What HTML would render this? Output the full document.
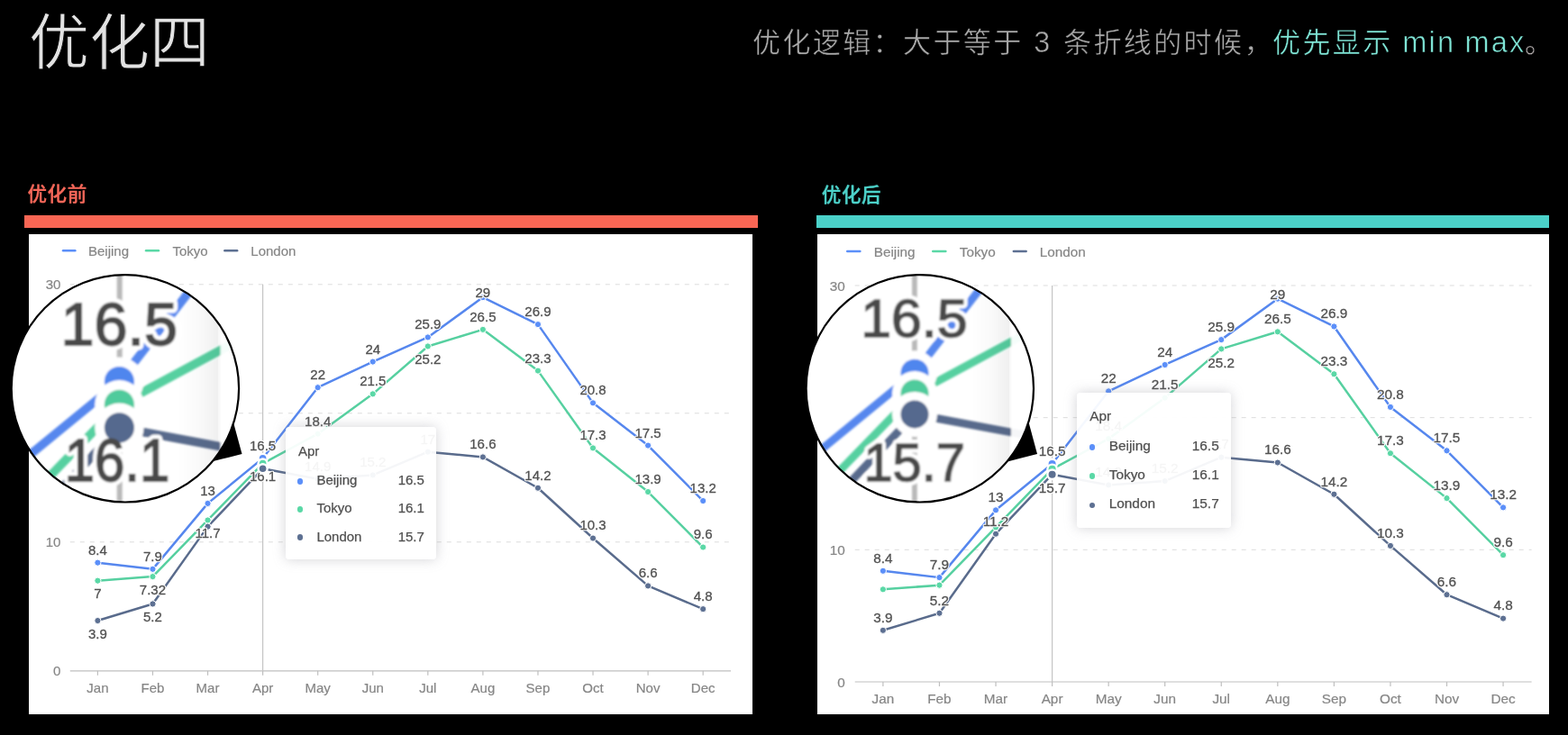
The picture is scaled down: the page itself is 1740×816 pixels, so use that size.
<!DOCTYPE html>
<html lang="zh-CN">
<head>
<meta charset="utf-8">
<title>优化四</title>
<style>
html,body{margin:0;padding:0;background:#000;}
body{width:1740px;height:816px;position:relative;overflow:hidden;font-family:"Liberation Sans",sans-serif;}
svg{position:absolute;left:0;top:0;overflow:visible;opacity:0.9999;}
svg text{font-family:"Liberation Sans",sans-serif;}
svg text.cjk{font-family:"Liberation Sans","Noto Sans CJK SC",sans-serif;}
h1,h2,p{margin:0;padding:0;font-weight:normal;}
.bar{position:absolute;height:13.6px;top:239.2px;}
.bar.red{left:27px;width:814px;background:#f96654;}
.bar.teal{left:906.2px;width:812.8px;background:#4bd1c9;}
.panel{position:absolute;background:#fff;top:260px;height:532.6px;}
.panel.l{left:32px;width:803.1px;}
.panel.r{left:907px;width:812px;}
.tooltip{position:absolute;background:rgba(255,255,255,0.94);border-radius:4px;box-shadow:0 0 14px rgba(140,140,150,0.38);color:#505050;-webkit-text-stroke:0.25px #505050;white-space:nowrap;line-height:1;}
.tooltip div{opacity:0.9999;}
.tooltip div{position:absolute;}
.tt-dot{width:6.6px;height:6.6px;border-radius:50%;}
</style>
</head>
<body>
<h1 aria-label="优化四"><svg width="1740" height="100" viewBox="0 0 1740 100"><text class="cjk" x="32" y="70.5" font-size="67" fill="#e2e2e2" stroke="#000" stroke-width="0.9">优化四</text></svg></h1>
<p aria-label="优化逻辑：大于等于 3 条折线的时候，优先显示 min max。"><svg width="1740" height="100" viewBox="0 0 1740 100"><text class="cjk" x="835" y="57.9" font-size="31" letter-spacing="2.4" fill="#a9a9a9" stroke="#000" stroke-width="0.5">优化逻辑：大于等于</text><text class="cjk" x="1180" y="57.9" font-size="31" letter-spacing="2.4" fill="#a9a9a9" stroke="#000" stroke-width="0.5">条折线的时候，</text><text class="cjk" x="1412" y="57.9" font-size="31" letter-spacing="2.4" fill="#7fe5d6" stroke="#000" stroke-width="0.5">优先显示</text><text class="cjk" x="1692" y="57.9" font-size="31" fill="#c9c3c3" stroke="#000" stroke-width="0.5">。</text><text x="1147.2" y="57.9" font-size="32.3" fill="#a9a9a9" stroke="#000" stroke-width="0.5">3</text><text x="1556.3" y="57.9" font-size="32.5" letter-spacing="2.2" fill="#7fe5d6" stroke="#000" stroke-width="0.6">min</text><text x="1625.5" y="57.9" font-size="32.5" letter-spacing="2.2" fill="#7fe5d6" stroke="#000" stroke-width="0.6">max</text></svg></p>

<h2 aria-label="优化前"><svg width="1740" height="260" viewBox="0 0 1740 260"><text class="cjk" x="30.4" y="223.4" font-size="21.5" letter-spacing="0.7" font-weight="500" fill="#f6685a" stroke="#f6685a" stroke-width="0.35">优化前</text></svg></h2>
<div class="bar red"></div>
<div class="panel l"></div>
<svg width="1740" height="816" viewBox="0 0 1740 816">
<g class="legend" font-size="15" fill="#868686" stroke="#868686" stroke-width="0.2">
<line x1="70" x2="83.4" y1="278.3" y2="278.3" stroke="#5B8FF9" stroke-width="2.4" stroke-linecap="round"/>
<text x="98" y="283.7">Beijing</text>
<line x1="162" x2="176" y1="278.3" y2="278.3" stroke="#5AD8A6" stroke-width="2.4" stroke-linecap="round"/>
<text x="191.4" y="283.7">Tokyo</text>
<line x1="249.3" x2="263.2" y1="278.3" y2="278.3" stroke="#5D7092" stroke-width="2.4" stroke-linecap="round"/>
<text x="278.3" y="283.7">London</text>
</g>
<g class="grid" stroke="#dcdcdc" stroke-width="1" stroke-dasharray="5 6">
<line x1="77.8" x2="811" y1="601.8" y2="601.8"/>
<line x1="77.8" x2="811" y1="458.8" y2="458.8"/>
<line x1="77.8" x2="811" y1="315.8" y2="315.8"/>
</g>
<g class="axis" stroke="#bfbfbf" stroke-width="1.2">
<line x1="77.8" x2="811" y1="744.8" y2="744.8"/>
<line x1="108.4" x2="108.4" y1="744.8" y2="749.8"/>
<line x1="169.47" x2="169.47" y1="744.8" y2="749.8"/>
<line x1="230.54" x2="230.54" y1="744.8" y2="749.8"/>
<line x1="291.61" x2="291.61" y1="744.8" y2="749.8"/>
<line x1="352.68" x2="352.68" y1="744.8" y2="749.8"/>
<line x1="413.75" x2="413.75" y1="744.8" y2="749.8"/>
<line x1="474.82" x2="474.82" y1="744.8" y2="749.8"/>
<line x1="535.89" x2="535.89" y1="744.8" y2="749.8"/>
<line x1="596.96" x2="596.96" y1="744.8" y2="749.8"/>
<line x1="658.03" x2="658.03" y1="744.8" y2="749.8"/>
<line x1="719.1" x2="719.1" y1="744.8" y2="749.8"/>
<line x1="780.17" x2="780.17" y1="744.8" y2="749.8"/>
</g>
<g class="axis-labels" font-size="15" fill="#868686" stroke="#868686" stroke-width="0.2">
<text x="108.4" y="768.8" text-anchor="middle">Jan</text>
<text x="169.47" y="768.8" text-anchor="middle">Feb</text>
<text x="230.54" y="768.8" text-anchor="middle">Mar</text>
<text x="291.61" y="768.8" text-anchor="middle">Apr</text>
<text x="352.68" y="768.8" text-anchor="middle">May</text>
<text x="413.75" y="768.8" text-anchor="middle">Jun</text>
<text x="474.82" y="768.8" text-anchor="middle">Jul</text>
<text x="535.89" y="768.8" text-anchor="middle">Aug</text>
<text x="596.96" y="768.8" text-anchor="middle">Sep</text>
<text x="658.03" y="768.8" text-anchor="middle">Oct</text>
<text x="719.1" y="768.8" text-anchor="middle">Nov</text>
<text x="780.17" y="768.8" text-anchor="middle">Dec</text>
<text x="67.4" y="750.2" text-anchor="end">0</text>
<text x="67.4" y="607.2" text-anchor="end">10</text>
<text x="67.4" y="464.2" text-anchor="end">20</text>
<text x="67.4" y="321.2" text-anchor="end">30</text>
</g>
<line class="crosshair" x1="291.61" x2="291.61" y1="315.8" y2="744.8" stroke="#c4c4c4" stroke-width="1.2"/>
<polyline points="108.4,624.68 169.47,631.83 230.54,558.9 291.61,508.85 352.68,430.2 413.75,401.6 474.82,374.43 535.89,330.1 596.96,360.13 658.03,447.36 719.1,494.55 780.17,556.04" fill="none" stroke="#5687EE" stroke-width="2.5" stroke-linejoin="round" stroke-linecap="round"/>
<polyline points="108.4,644.7 169.47,640.12 230.54,577.49 291.61,514.57 352.68,481.68 413.75,437.35 474.82,384.44 535.89,365.85 596.96,411.61 658.03,497.41 719.1,546.03 780.17,607.52" fill="none" stroke="#56D0A0" stroke-width="2.5" stroke-linejoin="round" stroke-linecap="round"/>
<polyline points="108.4,689.03 169.47,670.44 230.54,584.64 291.61,520.29 352.68,531.73 413.75,527.44 474.82,501.7 535.89,507.42 596.96,541.74 658.03,597.51 719.1,650.42 780.17,676.16" fill="none" stroke="#596B8C" stroke-width="2.5" stroke-linejoin="round" stroke-linecap="round"/>
<g fill="#5B8FF9" stroke="#fff" stroke-width="1">
<circle cx="108.4" cy="624.68" r="3.6"/>
<circle cx="169.47" cy="631.83" r="3.6"/>
<circle cx="230.54" cy="558.9" r="3.6"/>
<circle cx="352.68" cy="430.2" r="3.6"/>
<circle cx="413.75" cy="401.6" r="3.6"/>
<circle cx="474.82" cy="374.43" r="3.6"/>
<circle cx="535.89" cy="330.1" r="3.6"/>
<circle cx="596.96" cy="360.13" r="3.6"/>
<circle cx="658.03" cy="447.36" r="3.6"/>
<circle cx="719.1" cy="494.55" r="3.6"/>
<circle cx="780.17" cy="556.04" r="3.6"/>
</g>
<g fill="#5AD8A6" stroke="#fff" stroke-width="1">
<circle cx="108.4" cy="644.7" r="3.6"/>
<circle cx="169.47" cy="640.12" r="3.6"/>
<circle cx="230.54" cy="577.49" r="3.6"/>
<circle cx="352.68" cy="481.68" r="3.6"/>
<circle cx="413.75" cy="437.35" r="3.6"/>
<circle cx="474.82" cy="384.44" r="3.6"/>
<circle cx="535.89" cy="365.85" r="3.6"/>
<circle cx="596.96" cy="411.61" r="3.6"/>
<circle cx="658.03" cy="497.41" r="3.6"/>
<circle cx="719.1" cy="546.03" r="3.6"/>
<circle cx="780.17" cy="607.52" r="3.6"/>
</g>
<g fill="#5D7092" stroke="#fff" stroke-width="1">
<circle cx="108.4" cy="689.03" r="3.6"/>
<circle cx="169.47" cy="670.44" r="3.6"/>
<circle cx="230.54" cy="584.64" r="3.6"/>
<circle cx="352.68" cy="531.73" r="3.6"/>
<circle cx="413.75" cy="527.44" r="3.6"/>
<circle cx="474.82" cy="501.7" r="3.6"/>
<circle cx="535.89" cy="507.42" r="3.6"/>
<circle cx="596.96" cy="541.74" r="3.6"/>
<circle cx="658.03" cy="597.51" r="3.6"/>
<circle cx="719.1" cy="650.42" r="3.6"/>
<circle cx="780.17" cy="676.16" r="3.6"/>
</g>
<g class="label-halo" font-size="15" fill="#fff" stroke="#fff" stroke-width="2.4" stroke-linejoin="round" text-anchor="middle">
<text x="108.4" y="615.65">8.4</text>
<text x="169.47" y="622.8">7.9</text>
<text x="230.54" y="549.87">13</text>
<text x="291.61" y="499.82">16.5</text>
<text x="352.68" y="421.17">22</text>
<text x="413.75" y="392.57">24</text>
<text x="474.82" y="365.4">25.9</text>
<text x="535.89" y="330.37">29</text>
<text x="596.96" y="351.1">26.9</text>
<text x="658.03" y="438.33">20.8</text>
<text x="719.1" y="485.52">17.5</text>
<text x="780.17" y="547.01">13.2</text>
<text x="108.4" y="664.47">7</text>
<text x="169.47" y="659.89">7.32</text>
<text x="230.54" y="597.26">11.7</text>
<text x="291.61" y="534.34">16.1</text>
<text x="352.68" y="472.65">18.4</text>
<text x="413.75" y="428.32">21.5</text>
<text x="474.82" y="404.21">25.2</text>
<text x="535.89" y="356.82">26.5</text>
<text x="596.96" y="402.58">23.3</text>
<text x="658.03" y="488.38">17.3</text>
<text x="719.1" y="537">13.9</text>
<text x="780.17" y="598.49">9.6</text>
<text x="108.4" y="708.8">3.9</text>
<text x="169.47" y="690.21">5.2</text>
<text x="352.68" y="522.7">14.9</text>
<text x="413.75" y="518.41">15.2</text>
<text x="474.82" y="492.67">17</text>
<text x="535.89" y="498.39">16.6</text>
<text x="596.96" y="532.71">14.2</text>
<text x="658.03" y="588.48">10.3</text>
<text x="719.1" y="641.39">6.6</text>
<text x="780.17" y="667.13">4.8</text>
</g>
<g class="labels" font-size="15" fill="#525252" stroke="#525252" stroke-width="0.3" text-anchor="middle">
<text x="108.4" y="615.65">8.4</text>
<text x="169.47" y="622.8">7.9</text>
<text x="230.54" y="549.87">13</text>
<text x="291.61" y="499.82">16.5</text>
<text x="352.68" y="421.17">22</text>
<text x="413.75" y="392.57">24</text>
<text x="474.82" y="365.4">25.9</text>
<text x="535.89" y="330.37">29</text>
<text x="596.96" y="351.1">26.9</text>
<text x="658.03" y="438.33">20.8</text>
<text x="719.1" y="485.52">17.5</text>
<text x="780.17" y="547.01">13.2</text>
<text x="108.4" y="664.47">7</text>
<text x="169.47" y="659.89">7.32</text>
<text x="230.54" y="597.26">11.7</text>
<text x="291.61" y="534.34">16.1</text>
<text x="352.68" y="472.65">18.4</text>
<text x="413.75" y="428.32">21.5</text>
<text x="474.82" y="404.21">25.2</text>
<text x="535.89" y="356.82">26.5</text>
<text x="596.96" y="402.58">23.3</text>
<text x="658.03" y="488.38">17.3</text>
<text x="719.1" y="537">13.9</text>
<text x="780.17" y="598.49">9.6</text>
<text x="108.4" y="708.8">3.9</text>
<text x="169.47" y="690.21">5.2</text>
<text x="352.68" y="522.7">14.9</text>
<text x="413.75" y="518.41">15.2</text>
<text x="474.82" y="492.67">17</text>
<text x="535.89" y="498.39">16.6</text>
<text x="596.96" y="532.71">14.2</text>
<text x="658.03" y="588.48">10.3</text>
<text x="719.1" y="641.39">6.6</text>
<text x="780.17" y="667.13">4.8</text>
</g>
<g class="active-points">
<circle cx="291.61" cy="508.85" r="6.2" fill="#fff"/><circle cx="291.61" cy="508.85" r="3.8" fill="#5B8FF9"/>
<circle cx="291.61" cy="514.57" r="6.2" fill="#fff"/><circle cx="291.61" cy="514.57" r="3.8" fill="#5AD8A6"/>
<circle cx="291.61" cy="520.29" r="6.2" fill="#fff"/><circle cx="291.61" cy="520.29" r="3.8" fill="#5D7092"/>
</g>
</svg>
<div class="tooltip" style="left:317.2px;top:474.3px;width:167px;height:147px;font-size:15px"><div class="tt-title" style="left:13.7px;top:18.9px">Apr</div><div class="tt-dot" style="left:12.6px;top:56.9px;background:#5B8FF9"></div><div class="tt-name" style="left:34.2px;top:50.6px">Beijing</div><div class="tt-val" style="right:13.3px;top:50.6px">16.5</div><div class="tt-dot" style="left:12.6px;top:87.8px;background:#5AD8A6"></div><div class="tt-name" style="left:34.2px;top:82.2px">Tokyo</div><div class="tt-val" style="right:13.3px;top:82.2px">16.1</div><div class="tt-dot" style="left:12.6px;top:119.1px;background:#5D7092"></div><div class="tt-name" style="left:34.2px;top:113.5px">London</div><div class="tt-val" style="right:13.3px;top:113.5px">15.7</div></div>

<h2 aria-label="优化后"><svg width="1740" height="260" viewBox="0 0 1740 260"><text class="cjk" x="911.7" y="224.4" font-size="21.5" letter-spacing="0.7" font-weight="500" fill="#4dd2ca" stroke="#4dd2ca" stroke-width="0.35">优化后</text></svg></h2>
<div class="bar teal"></div>
<div class="panel r"></div>
<svg width="1740" height="816" viewBox="0 0 1740 816">
<g class="legend" font-size="15.3" fill="#868686" stroke="#868686" stroke-width="0.2">
<line x1="940.2" x2="954.4" y1="279" y2="279" stroke="#5B8FF9" stroke-width="2.4" stroke-linecap="round"/>
<text x="969.7" y="284.51">Beijing</text>
<line x1="1035.2" x2="1049.4" y1="279" y2="279" stroke="#5AD8A6" stroke-width="2.4" stroke-linecap="round"/>
<text x="1064.8" y="284.51">Tokyo</text>
<line x1="1124.8" x2="1138.7" y1="279" y2="279" stroke="#5D7092" stroke-width="2.4" stroke-linecap="round"/>
<text x="1153.8" y="284.51">London</text>
</g>
<g class="grid" stroke="#dcdcdc" stroke-width="1" stroke-dasharray="5 6">
<line x1="948.7" x2="1699.6" y1="610.33" y2="610.33"/>
<line x1="948.7" x2="1699.6" y1="463.66" y2="463.66"/>
<line x1="948.7" x2="1699.6" y1="316.99" y2="316.99"/>
</g>
<g class="axis" stroke="#bfbfbf" stroke-width="1.2">
<line x1="948.7" x2="1699.6" y1="757" y2="757"/>
<line x1="979.9" x2="979.9" y1="757" y2="762"/>
<line x1="1042.46" x2="1042.46" y1="757" y2="762"/>
<line x1="1105.02" x2="1105.02" y1="757" y2="762"/>
<line x1="1167.58" x2="1167.58" y1="757" y2="762"/>
<line x1="1230.14" x2="1230.14" y1="757" y2="762"/>
<line x1="1292.7" x2="1292.7" y1="757" y2="762"/>
<line x1="1355.26" x2="1355.26" y1="757" y2="762"/>
<line x1="1417.82" x2="1417.82" y1="757" y2="762"/>
<line x1="1480.38" x2="1480.38" y1="757" y2="762"/>
<line x1="1542.94" x2="1542.94" y1="757" y2="762"/>
<line x1="1605.5" x2="1605.5" y1="757" y2="762"/>
<line x1="1668.06" x2="1668.06" y1="757" y2="762"/>
</g>
<g class="axis-labels" font-size="15.3" fill="#868686" stroke="#868686" stroke-width="0.2">
<text x="979.9" y="781.41" text-anchor="middle">Jan</text>
<text x="1042.46" y="781.41" text-anchor="middle">Feb</text>
<text x="1105.02" y="781.41" text-anchor="middle">Mar</text>
<text x="1167.58" y="781.41" text-anchor="middle">Apr</text>
<text x="1230.14" y="781.41" text-anchor="middle">May</text>
<text x="1292.7" y="781.41" text-anchor="middle">Jun</text>
<text x="1355.26" y="781.41" text-anchor="middle">Jul</text>
<text x="1417.82" y="781.41" text-anchor="middle">Aug</text>
<text x="1480.38" y="781.41" text-anchor="middle">Sep</text>
<text x="1542.94" y="781.41" text-anchor="middle">Oct</text>
<text x="1605.5" y="781.41" text-anchor="middle">Nov</text>
<text x="1668.06" y="781.41" text-anchor="middle">Dec</text>
<text x="937.8" y="762.51" text-anchor="end">0</text>
<text x="937.8" y="615.84" text-anchor="end">10</text>
<text x="937.8" y="469.17" text-anchor="end">20</text>
<text x="937.8" y="322.5" text-anchor="end">30</text>
</g>
<line class="crosshair" x1="1167.58" x2="1167.58" y1="316.99" y2="757" stroke="#c4c4c4" stroke-width="1.2"/>
<polyline points="979.9,633.8 1042.46,641.13 1105.02,566.33 1167.58,514.99 1230.14,434.33 1292.7,404.99 1355.26,377.12 1417.82,331.66 1480.38,362.46 1542.94,451.93 1605.5,500.33 1668.06,563.4" fill="none" stroke="#5687EE" stroke-width="2.5" stroke-linejoin="round" stroke-linecap="round"/>
<polyline points="979.9,654.33 1042.46,649.64 1105.02,585.4 1167.58,520.86 1230.14,487.13 1292.7,441.66 1355.26,387.39 1417.82,368.32 1480.38,415.26 1542.94,503.26 1605.5,553.13 1668.06,616.2" fill="none" stroke="#56D0A0" stroke-width="2.5" stroke-linejoin="round" stroke-linecap="round"/>
<polyline points="979.9,699.8 1042.46,680.73 1105.02,592.73 1167.58,526.73 1230.14,538.46 1292.7,534.06 1355.26,507.66 1417.82,513.53 1480.38,548.73 1542.94,605.93 1605.5,660.2 1668.06,686.6" fill="none" stroke="#596B8C" stroke-width="2.5" stroke-linejoin="round" stroke-linecap="round"/>
<g fill="#5B8FF9" stroke="#fff" stroke-width="1">
<circle cx="979.9" cy="633.8" r="3.6"/>
<circle cx="1042.46" cy="641.13" r="3.6"/>
<circle cx="1105.02" cy="566.33" r="3.6"/>
<circle cx="1230.14" cy="434.33" r="3.6"/>
<circle cx="1292.7" cy="404.99" r="3.6"/>
<circle cx="1355.26" cy="377.12" r="3.6"/>
<circle cx="1417.82" cy="331.66" r="3.6"/>
<circle cx="1480.38" cy="362.46" r="3.6"/>
<circle cx="1542.94" cy="451.93" r="3.6"/>
<circle cx="1605.5" cy="500.33" r="3.6"/>
<circle cx="1668.06" cy="563.4" r="3.6"/>
</g>
<g fill="#5AD8A6" stroke="#fff" stroke-width="1">
<circle cx="979.9" cy="654.33" r="3.6"/>
<circle cx="1042.46" cy="649.64" r="3.6"/>
<circle cx="1105.02" cy="585.4" r="3.6"/>
<circle cx="1230.14" cy="487.13" r="3.6"/>
<circle cx="1292.7" cy="441.66" r="3.6"/>
<circle cx="1355.26" cy="387.39" r="3.6"/>
<circle cx="1417.82" cy="368.32" r="3.6"/>
<circle cx="1480.38" cy="415.26" r="3.6"/>
<circle cx="1542.94" cy="503.26" r="3.6"/>
<circle cx="1605.5" cy="553.13" r="3.6"/>
<circle cx="1668.06" cy="616.2" r="3.6"/>
</g>
<g fill="#5D7092" stroke="#fff" stroke-width="1">
<circle cx="979.9" cy="699.8" r="3.6"/>
<circle cx="1042.46" cy="680.73" r="3.6"/>
<circle cx="1105.02" cy="592.73" r="3.6"/>
<circle cx="1230.14" cy="538.46" r="3.6"/>
<circle cx="1292.7" cy="534.06" r="3.6"/>
<circle cx="1355.26" cy="507.66" r="3.6"/>
<circle cx="1417.82" cy="513.53" r="3.6"/>
<circle cx="1480.38" cy="548.73" r="3.6"/>
<circle cx="1542.94" cy="605.93" r="3.6"/>
<circle cx="1605.5" cy="660.2" r="3.6"/>
<circle cx="1668.06" cy="686.6" r="3.6"/>
</g>
<g class="label-halo" font-size="15.3" fill="#fff" stroke="#fff" stroke-width="2.4" stroke-linejoin="round" text-anchor="middle">
<text x="979.9" y="624.57">8.4</text>
<text x="1042.46" y="631.91">7.9</text>
<text x="1105.02" y="557.11">13</text>
<text x="1167.58" y="505.77">16.5</text>
<text x="1230.14" y="425.1">22</text>
<text x="1292.7" y="395.77">24</text>
<text x="1355.26" y="367.9">25.9</text>
<text x="1417.82" y="331.98">29</text>
<text x="1480.38" y="353.24">26.9</text>
<text x="1542.94" y="442.7">20.8</text>
<text x="1605.5" y="491.1">17.5</text>
<text x="1668.06" y="554.17">13.2</text>
<text x="1230.14" y="477.9">18.4</text>
<text x="1292.7" y="432.44">21.5</text>
<text x="1355.26" y="407.57">25.2</text>
<text x="1417.82" y="359.1">26.5</text>
<text x="1480.38" y="406.04">23.3</text>
<text x="1542.94" y="494.04">17.3</text>
<text x="1605.5" y="543.91">13.9</text>
<text x="1668.06" y="606.97">9.6</text>
<text x="979.9" y="690.58">3.9</text>
<text x="1042.46" y="671.51">5.2</text>
<text x="1105.02" y="583.51">11.2</text>
<text x="1167.58" y="546.91">15.7</text>
<text x="1230.14" y="529.24">14.9</text>
<text x="1292.7" y="524.84">15.2</text>
<text x="1355.26" y="498.44">17</text>
<text x="1417.82" y="504.31">16.6</text>
<text x="1480.38" y="539.51">14.2</text>
<text x="1542.94" y="596.71">10.3</text>
<text x="1605.5" y="650.98">6.6</text>
<text x="1668.06" y="677.38">4.8</text>
</g>
<g class="labels" font-size="15.3" fill="#525252" stroke="#525252" stroke-width="0.3" text-anchor="middle">
<text x="979.9" y="624.57">8.4</text>
<text x="1042.46" y="631.91">7.9</text>
<text x="1105.02" y="557.11">13</text>
<text x="1167.58" y="505.77">16.5</text>
<text x="1230.14" y="425.1">22</text>
<text x="1292.7" y="395.77">24</text>
<text x="1355.26" y="367.9">25.9</text>
<text x="1417.82" y="331.98">29</text>
<text x="1480.38" y="353.24">26.9</text>
<text x="1542.94" y="442.7">20.8</text>
<text x="1605.5" y="491.1">17.5</text>
<text x="1668.06" y="554.17">13.2</text>
<text x="1230.14" y="477.9">18.4</text>
<text x="1292.7" y="432.44">21.5</text>
<text x="1355.26" y="407.57">25.2</text>
<text x="1417.82" y="359.1">26.5</text>
<text x="1480.38" y="406.04">23.3</text>
<text x="1542.94" y="494.04">17.3</text>
<text x="1605.5" y="543.91">13.9</text>
<text x="1668.06" y="606.97">9.6</text>
<text x="979.9" y="690.58">3.9</text>
<text x="1042.46" y="671.51">5.2</text>
<text x="1105.02" y="583.51">11.2</text>
<text x="1167.58" y="546.91">15.7</text>
<text x="1230.14" y="529.24">14.9</text>
<text x="1292.7" y="524.84">15.2</text>
<text x="1355.26" y="498.44">17</text>
<text x="1417.82" y="504.31">16.6</text>
<text x="1480.38" y="539.51">14.2</text>
<text x="1542.94" y="596.71">10.3</text>
<text x="1605.5" y="650.98">6.6</text>
<text x="1668.06" y="677.38">4.8</text>
</g>
<g class="active-points">
<circle cx="1167.58" cy="514.99" r="6.4" fill="#fff"/><circle cx="1167.58" cy="514.99" r="4" fill="#5B8FF9"/>
<circle cx="1167.58" cy="520.86" r="6.4" fill="#fff"/><circle cx="1167.58" cy="520.86" r="4" fill="#5AD8A6"/>
<circle cx="1167.58" cy="526.73" r="6.4" fill="#fff"/><circle cx="1167.58" cy="526.73" r="4" fill="#5D7092"/>
</g>
</svg>
<div class="tooltip" style="left:1195px;top:435.9px;width:171.3px;height:150.3px;font-size:15.4px"><div class="tt-title" style="left:14.3px;top:18.46px">Apr</div><div class="tt-dot" style="left:13.9px;top:57.5px;background:#5B8FF9"></div><div class="tt-name" style="left:35.7px;top:50.86px">Beijing</div><div class="tt-val" style="right:13.6px;top:50.86px">16.5</div><div class="tt-dot" style="left:13.9px;top:89.5px;background:#5AD8A6"></div><div class="tt-name" style="left:35.7px;top:83.06px">Tokyo</div><div class="tt-val" style="right:13.6px;top:83.06px">16.1</div><div class="tt-dot" style="left:13.9px;top:121.9px;background:#5D7092"></div><div class="tt-name" style="left:35.7px;top:115.46px">London</div><div class="tt-val" style="right:13.6px;top:115.46px">15.7</div></div>

<svg width="1740" height="816" viewBox="0 0 1740 816">
<defs><clipPath id="mc1"><circle cx="138.9" cy="431.3" r="126.2"/></clipPath>
<linearGradient id="mg1" x1="0" x2="1" y1="0" y2="0"><stop offset="0" stop-color="#1a1a2a" stop-opacity="0"/><stop offset="0.5" stop-color="#1a1a2a" stop-opacity="0.02"/><stop offset="1" stop-color="#1a1a2a" stop-opacity="0.065"/></linearGradient>
<filter id="mb1" x="-10%" y="-10%" width="120%" height="120%"><feGaussianBlur stdDeviation="1.1"/></filter></defs>
<polygon points="259.3,470.1 268.5,504 236.5,512 220,480" fill="#000"/>
<circle cx="138.9" cy="431.3" r="126.2" fill="#fff"/>
<g clip-path="url(#mc1)"><g filter="url(#mb1)">
<line x1="132.7" x2="132.7" y1="300.1" y2="562.5" stroke="#b9b9b9" stroke-width="6"/>
<polyline points="-37.6,562.83 132.4,423.6 302.4,204.64" fill="none" stroke="#5687EE" stroke-width="9.6" stroke-linejoin="round"/>
<polyline points="-37.6,624.4 132.4,449.3 302.4,357.67" fill="none" stroke="#56D0A0" stroke-width="9.6" stroke-linejoin="round"/>
<polyline points="-37.6,653.98 132.4,474.8 302.4,506.59" fill="none" stroke="#596B8C" stroke-width="9.6" stroke-linejoin="round"/>
<text x="67.5" y="382.7" font-size="66" textLength="129.5" lengthAdjust="spacingAndGlyphs" fill="none" stroke="#fff" stroke-width="11" stroke-linejoin="round">16.5</text>
<text x="71.7" y="534" font-size="66" textLength="116.6" lengthAdjust="spacingAndGlyphs" fill="none" stroke="#fff" stroke-width="11" stroke-linejoin="round">16.1</text>
<circle cx="132.4" cy="423.6" r="27.2" fill="#fff"/>
<circle cx="132.4" cy="423.6" r="16.6" fill="#4F86EE"/>
<circle cx="132.4" cy="449.3" r="27.2" fill="#fff"/>
<circle cx="132.4" cy="449.3" r="16.6" fill="#4FCB9C"/>
<circle cx="132.4" cy="474.8" r="27.2" fill="#fff"/>
<circle cx="132.4" cy="474.8" r="16.6" fill="#55698E"/>
<text x="67.5" y="382.7" font-size="66" textLength="129.5" lengthAdjust="spacingAndGlyphs" fill="#4a4a4a" stroke="#4a4a4a" stroke-width="1.8">16.5</text>
<text x="71.7" y="534" font-size="66" textLength="116.6" lengthAdjust="spacingAndGlyphs" fill="#4a4a4a" stroke="#4a4a4a" stroke-width="1.8">16.1</text>
<rect x="196.5" y="300.1" width="48" height="262.4" fill="url(#mg1)"/>
<rect x="244.5" y="300.1" width="25.6" height="262.4" fill="#fff" fill-opacity="0.94"/>
</g></g>
<circle cx="138.9" cy="431.3" r="126.2" fill="none" stroke="#000" stroke-width="2.2"/>
<defs><clipPath id="mc2"><circle cx="1020.8" cy="431.3" r="126.2"/></clipPath>
<linearGradient id="mg2" x1="0" x2="1" y1="0" y2="0"><stop offset="0" stop-color="#1a1a2a" stop-opacity="0"/><stop offset="0.5" stop-color="#1a1a2a" stop-opacity="0.02"/><stop offset="1" stop-color="#1a1a2a" stop-opacity="0.065"/></linearGradient>
<filter id="mb2" x="-10%" y="-10%" width="120%" height="120%"><feGaussianBlur stdDeviation="1.1"/></filter></defs>
<polygon points="1141.5,468.7 1151,504 1117.9,512.4 1100,480" fill="#000"/>
<circle cx="1020.8" cy="431.3" r="126.2" fill="#fff"/>
<g clip-path="url(#mc2)"><g filter="url(#mb2)">
<line x1="1014.9" x2="1014.9" y1="300.1" y2="562.5" stroke="#b9b9b9" stroke-width="5.7"/>
<polyline points="845,553.43 1015,414.2 1185,195.24" fill="none" stroke="#5687EE" stroke-width="8.7" stroke-linejoin="round"/>
<polyline points="845,612.1 1015,437 1185,345.37" fill="none" stroke="#56D0A0" stroke-width="8.7" stroke-linejoin="round"/>
<polyline points="845,639.08 1015,459.9 1185,491.69" fill="none" stroke="#596B8C" stroke-width="8.7" stroke-linejoin="round"/>
<text x="955.2" y="374.4" font-size="60" textLength="118.4" lengthAdjust="spacingAndGlyphs" fill="none" stroke="#fff" stroke-width="10" stroke-linejoin="round">16.5</text>
<text x="958.4" y="534" font-size="60" textLength="112.5" lengthAdjust="spacingAndGlyphs" fill="none" stroke="#fff" stroke-width="10" stroke-linejoin="round">15.7</text>
<circle cx="1015" cy="414.2" r="25" fill="#fff"/>
<circle cx="1015" cy="414.2" r="15.5" fill="#4F86EE"/>
<circle cx="1015" cy="437" r="25" fill="#fff"/>
<circle cx="1015" cy="437" r="15.5" fill="#4FCB9C"/>
<circle cx="1015" cy="459.9" r="25" fill="#fff"/>
<circle cx="1015" cy="459.9" r="15.5" fill="#55698E"/>
<text x="955.2" y="374.4" font-size="60" textLength="118.4" lengthAdjust="spacingAndGlyphs" fill="#4a4a4a" stroke="#4a4a4a" stroke-width="1.6">16.5</text>
<text x="958.4" y="534" font-size="60" textLength="112.5" lengthAdjust="spacingAndGlyphs" fill="#4a4a4a" stroke="#4a4a4a" stroke-width="1.6">15.7</text>
<rect x="1078" y="300.1" width="44" height="262.4" fill="url(#mg2)"/>
<rect x="1122" y="300.1" width="30" height="262.4" fill="#fff" fill-opacity="0.94"/>
</g></g>
<circle cx="1020.8" cy="431.3" r="126.2" fill="none" stroke="#000" stroke-width="2.2"/>
</svg>
</body>
</html>
